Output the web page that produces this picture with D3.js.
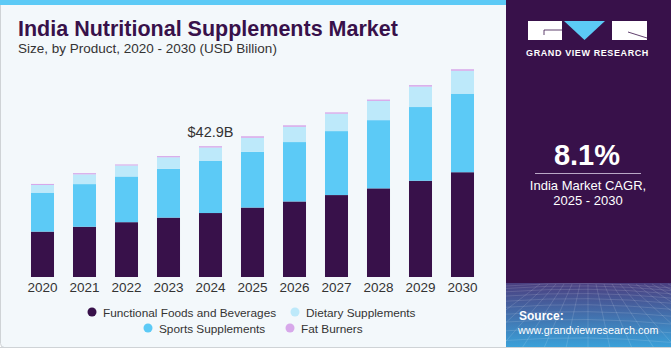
<!DOCTYPE html>
<html>
<head>
<meta charset="utf-8">
<script src="https://cdn.jsdelivr.net/npm/d3@7"></script>
<style>
  body { margin: 0; background: #ffffff; }
  text { font-family: "Liberation Sans", Arial, sans-serif; }
</style>
</head>
<body>
<div id="chart"></div>
<script>
// data (USD Billion)
var years = ["2020","2021","2022","2023","2024","2025","2026","2027","2028","2029","2030"];
var functional = [14.9, 16.5, 18.0, 19.5, 21.0, 22.8, 24.8, 26.9, 29.1, 31.6, 34.4];
var sports     = [12.8, 14.0, 15.0, 16.0, 17.2, 18.3, 19.5, 21.0, 22.4, 24.2, 25.8];
var dietary    = [ 2.5,  3.2,  3.6,  3.8,  4.3,  4.6,  5.0,  5.7,  6.3,  6.7,  7.5];
var fatBurners = [ 0.35, 0.4, 0.35, 0.4, 0.45, 0.5, 0.5, 0.45, 0.45, 0.5, 0.5];
var seriesNames = ["Functional Foods and Beverages", "Sports Supplements", "Dietary Supplements", "Fat Burners"];
var seriesColors = ["#38114a", "#5ccaf6", "#bde9fa", "#d7a8ea"];
var calloutYear = "2024", calloutText = "$42.9B";

var W = 671, H = 350;
var svg = d3.select("#chart").append("svg").attr("width", W).attr("height", H);

// card background
svg.append("rect").attr("x", 0.5).attr("y", -4).attr("width", 520).attr("height", 351.5)
  .attr("rx", 4).attr("fill", "#f3f8fb").attr("stroke", "#cfd3d6");
svg.append("rect").attr("x", 0).attr("y", 0).attr("width", 506).attr("height", 5).attr("fill", "#5ccaf6");

// title
svg.append("text").attr("x", 18).attr("y", 36).text("India Nutritional Supplements Market")
  .style("font-size", "21.5px").style("font-weight", "bold").attr("fill", "#38114a");
svg.append("text").attr("x", 18).attr("y", 53).text("Size, by Product, 2020 - 2030 (USD Billion)")
  .style("font-size", "13.5px").attr("fill", "#333");

// scales
var x = d3.scaleBand().domain(years).range([21.5, 483.5]).paddingInner(0.452).paddingOuter(0.226);
var y = d3.scaleLinear().domain([0, 50]).range([277, 277 - 50 / 0.3283]);

var rows = years.map(function (yr, i) {
  return { year: yr, f: functional[i], s: sports[i], d: dietary[i], b: fatBurners[i] };
});
var stack = d3.stack().keys(["f", "s", "d", "b"])(rows);

svg.append("g").selectAll("g").data(stack).enter().append("g")
  .attr("fill", function (d, i) { return seriesColors[i]; })
  .selectAll("rect").data(function (d) { return d; }).enter().append("rect")
  .attr("x", function (d) { return x(d.data.year); })
  .attr("width", x.bandwidth())
  .attr("y", function (d) { return y(d[1]); })
  .attr("height", function (d) { return y(d[0]) - y(d[1]); });

// x axis
var xAxis = svg.append("g").attr("transform", "translate(0,277)")
  .call(d3.axisBottom(x).tickSize(0).tickPadding(5));
xAxis.select(".domain").remove();
xAxis.selectAll("text").style("font-size", "13.5px").style("font-family", "Liberation Sans, Arial, sans-serif").attr("fill", "#333");

// callout
var ci = years.indexOf(calloutYear);
var ctotal = functional[ci] + sports[ci] + dietary[ci] + fatBurners[ci];
svg.append("text").attr("x", x(calloutYear) + x.bandwidth() / 2).attr("y", y(ctotal) - 9)
  .attr("text-anchor", "middle").text(calloutText).style("font-size", "14.5px").attr("fill", "#333");

// legend
var legendItems = [
  { name: seriesNames[0], color: seriesColors[0], cx: 92, cy: 312 },
  { name: seriesNames[2], color: seriesColors[2], cx: 295, cy: 312 },
  { name: seriesNames[1], color: seriesColors[1], cx: 148, cy: 328 },
  { name: seriesNames[3], color: seriesColors[3], cx: 290, cy: 328 }
];
var lg = svg.append("g").selectAll("g").data(legendItems).enter().append("g");
lg.append("circle").attr("cx", function (d) { return d.cx; }).attr("cy", function (d) { return d.cy; })
  .attr("r", 4.5).attr("fill", function (d) { return d.color; });
lg.append("text").attr("x", function (d) { return d.cx + 11; }).attr("y", function (d) { return d.cy + 4.5; })
  .text(function (d) { return d.name; }).style("font-size", "11.8px").attr("fill", "#333");

// right panel
var defs = svg.append("defs");
var grad = defs.append("linearGradient").attr("id", "srcGrad").attr("x1", 0).attr("y1", 0).attr("x2", 0).attr("y2", 1);
grad.append("stop").attr("offset", "0%").attr("stop-color", "#4b3f80");
grad.append("stop").attr("offset", "100%").attr("stop-color", "#3aa2da");

var px = 506;
svg.append("rect").attr("x", px).attr("y", 0).attr("width", W - px).attr("height", 348).attr("fill", "#38114a");
svg.append("rect").attr("x", px).attr("y", 283).attr("width", W - px).attr("height", 65).attr("fill", "url(#srcGrad)");

// faint mesh in the source area
var mesh = svg.append("g").attr("stroke", "#ffffff").attr("stroke-opacity", 0.13).attr("fill", "none");
d3.range(0, 12).forEach(function (k) {
  var yy = 286 + k * k * 0.45 + k * 2;
  mesh.append("path").attr("d", "M" + px + "," + yy + " Q588," + (yy - 6) + " " + W + "," + (yy + 2));
});
d3.range(-6, 14).forEach(function (k) {
  var top = 588 + k * 8, bot = 588 + k * 22;
  mesh.append("line").attr("x1", top).attr("y1", 284).attr("x2", bot).attr("y2", 348);
});
svg.append("rect").attr("x", 0).attr("y", 347).attr("width", W).attr("height", 3).attr("fill", "#ffffff");
svg.append("line").attr("x1", 0).attr("x2", W).attr("y1", 347.5).attr("y2", 347.5).attr("stroke", "#cfd3d6");

// logo
svg.append("rect").attr("x", 528).attr("y", 21).attr("width", 34).attr("height", 19).attr("fill", "#ffffff");
svg.append("path").attr("d", "M544,30 H562 M544,30 V35").attr("stroke", "#38114a").attr("stroke-width", 0.8).attr("fill", "none");
svg.append("path").attr("d", "M564,21 L605,21 L584.5,40 Z").attr("fill", "#5ccaf6");
svg.append("rect").attr("x", 612).attr("y", 21).attr("width", 35).attr("height", 19).attr("fill", "#ffffff");
svg.append("path").attr("d", "M628,32 L647,38").attr("stroke", "#38114a").attr("stroke-width", 0.8);
svg.append("text").attr("x", 587.5).attr("y", 56).attr("text-anchor", "middle").text("GRAND VIEW RESEARCH")
  .style("font-size", "9px").style("font-weight", "bold").style("letter-spacing", "0.6px").attr("fill", "#ffffff");

// CAGR
svg.append("text").attr("x", 587).attr("y", 165).attr("text-anchor", "middle").text("8.1%")
  .style("font-size", "29px").style("font-weight", "bold").attr("fill", "#ffffff");
svg.append("line").attr("x1", 535).attr("x2", 641).attr("y1", 173.5).attr("y2", 173.5).attr("stroke", "#b9a7c6");
svg.append("text").attr("x", 588).attr("y", 190).attr("text-anchor", "middle").text("India Market CAGR,")
  .style("font-size", "13px").attr("fill", "#ffffff");
svg.append("text").attr("x", 588).attr("y", 205).attr("text-anchor", "middle").text("2025 - 2030")
  .style("font-size", "13px").attr("fill", "#ffffff");

// source
svg.append("text").attr("x", 519).attr("y", 320).text("Source:")
  .style("font-size", "12px").style("font-weight", "bold").attr("fill", "#ffffff");
svg.append("text").attr("x", 518).attr("y", 334).text("www.grandviewresearch.com")
  .style("font-size", "10.8px").attr("fill", "#ffffff");
</script>
</body>
</html>
